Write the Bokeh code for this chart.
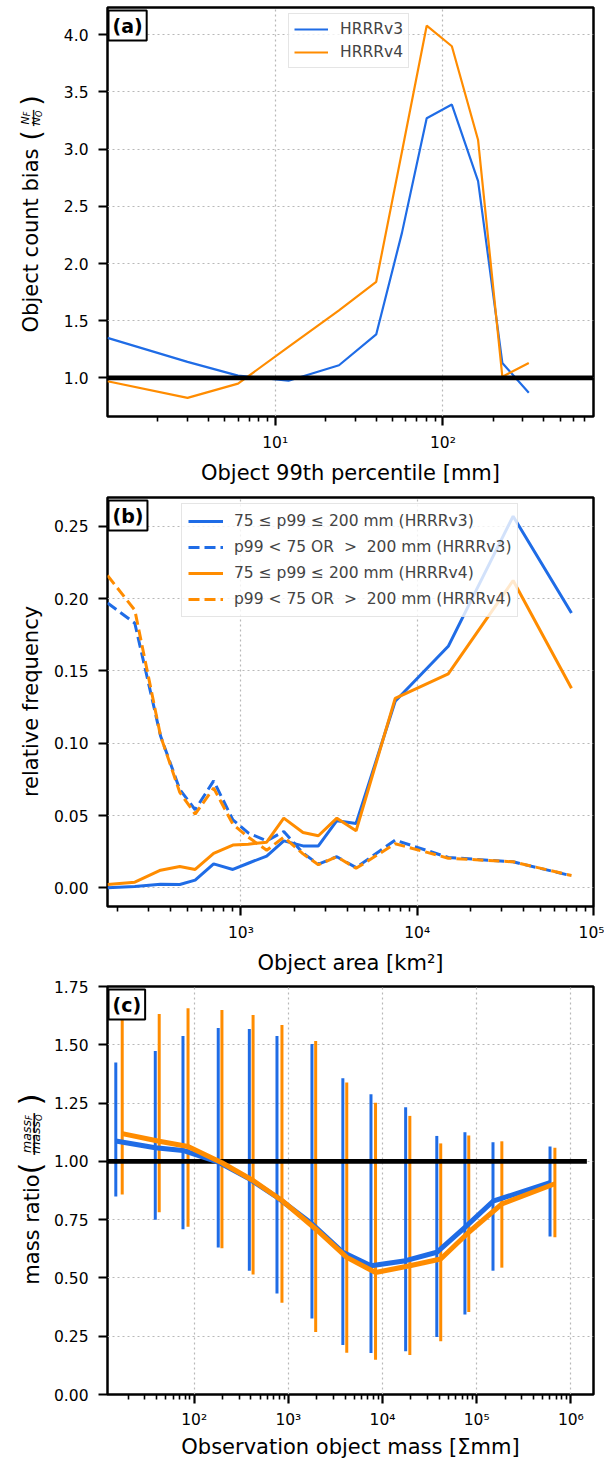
import numpy as np
from bokeh.plotting import figure
from bokeh.models import (FixedTicker, CustomJSTickFormatter, PrintfTickFormatter,
                          Label, Legend, LegendItem, Span)
from bokeh.layouts import column, row
from bokeh.core.properties import value
from bokeh.embed import file_html
from bokeh.resources import INLINE

# ---------------- data ----------------
# (a) object count bias vs object 99th percentile
a_x = [1, 3, 6, 12, 24, 40, 57, 80, 113, 162, 226, 325]
a_v3 = [1.35, 1.14, 1.02, 0.975, 1.11, 1.38, 2.27, 3.27, 3.39, 2.72, 1.13, 0.87]
a_v4 = [0.97, 0.825, 0.95, 1.27, 1.59, 1.84, 2.98, 4.08, 3.90, 3.08, 1.01, 1.13]

# (b) relative frequency vs object area
b_x = [175, 250, 350, 450, 550, 700, 900, 1100, 1400, 1750, 2250, 2750,
       3500, 4500, 7500, 15000, 35000, 75000]
b_v3_in = [0.000, 0.001, 0.0025, 0.0023, 0.0053, 0.0166, 0.0127, 0.017, 0.022, 0.0325,
           0.029, 0.029, 0.0464, 0.0445, 0.129, 0.167, 0.257, 0.190]
b_v3_out = [0.197, 0.183, 0.105, 0.068, 0.054, 0.074, 0.047, 0.038, 0.0325, 0.039,
            0.024, 0.0164, 0.0215, 0.014, 0.033, 0.021, 0.018, 0.0083]
b_v4_in = [0.0023, 0.0039, 0.0122, 0.0148, 0.0127, 0.0238, 0.0296, 0.0302, 0.0316, 0.0482,
           0.0383, 0.036, 0.0482, 0.0394, 0.131, 0.148, 0.2125, 0.138]
b_v4_out = [0.216, 0.192, 0.105, 0.066, 0.051, 0.069, 0.044, 0.035, 0.026, 0.035,
            0.0235, 0.016, 0.0215, 0.0135, 0.0305, 0.0205, 0.018, 0.0085]

# (c) mass ratio vs observation object mass
c_x_v3 = [14.7, 38.6, 76, 180, 385, 757, 1780, 3790, 7540, 17600, 37700, 75000, 149000, 601000]
c_x_v4 = [17.2, 42.5, 86, 197, 422, 855, 1950, 4170, 8430, 19500, 41500, 82400, 185000, 677000]
c_mean_v3 = [1.087, 1.058, 1.047, 0.997, 0.925, 0.846, 0.732, 0.610, 0.552, 0.574, 0.610, 0.717, 0.829, 0.909]
c_lo_v3 = [0.849, 0.750, 0.709, 0.630, 0.531, 0.433, 0.326, 0.212, 0.178, 0.186, 0.247, 0.343, 0.531, 0.678]
c_hi_v3 = [1.424, 1.473, 1.538, 1.572, 1.568, 1.538, 1.503, 1.357, 1.288, 1.232, 1.109, 1.125, 1.082, 1.064]
c_mean_v4 = [1.119, 1.086, 1.064, 0.994, 0.918, 0.832, 0.710, 0.588, 0.523, 0.552, 0.581, 0.696, 0.817, 0.904]
c_lo_v4 = [0.858, 0.782, 0.720, 0.627, 0.515, 0.394, 0.268, 0.179, 0.149, 0.169, 0.228, 0.354, 0.544, 0.674]
c_hi_v4 = [1.68, 1.632, 1.657, 1.649, 1.628, 1.585, 1.516, 1.338, 1.251, 1.195, 1.077, 1.111, 1.086, 1.058]
c_ref_x = [12, 1.48e6]
c_ref_y = [1.0, 1.0]

# ticks
a_xticks = [10, 100]
a_xminor = [2, 3, 4, 5, 6, 7, 8, 9, 20, 30, 40, 50, 60, 70, 80, 90, 200, 300, 400, 500, 600, 700]
a_yticks = [1.0, 1.5, 2.0, 2.5, 3.0, 3.5, 4.0]
b_xticks = [1e3, 1e4, 1e5]
b_xminor = [200, 300, 400, 500, 600, 700, 800, 900, 2e3, 3e3, 4e3, 5e3, 6e3, 7e3, 8e3, 9e3,
            2e4, 3e4, 4e4, 5e4, 6e4, 7e4, 8e4, 9e4]
b_yticks = [0.0, 0.05, 0.10, 0.15, 0.20, 0.25]
c_xticks = [1e2, 1e3, 1e4, 1e5, 1e6]
c_xminor = [20, 30, 40, 50, 60, 70, 80, 90] + [m * 10 ** k for k in (2, 3, 4, 5) for m in range(2, 10)]
c_yticks = [0.0, 0.25, 0.5, 0.75, 1.0, 1.25, 1.5, 1.75]

BLUE = "#1f6ce6"
ORANGE = "#ff8c00"
FONT = "DejaVu Sans"
STRIP_W = 50
TOTAL_H = 1461

SUP_CODE = """
const sup = {"0":"\u2070","1":"\u00b9","2":"\u00b2","3":"\u00b3","4":"\u2074","5":"\u2075","6":"\u2076","7":"\u2077","8":"\u2078","9":"\u2079","-":"\u207b"};
const e = Math.round(Math.log10(tick));
return "10" + String(e).split("").map(c => sup[c]).join("");
"""


def make_fig(xr, yr, h, top, bottom):
    p = figure(x_axis_type="log", x_range=xr, y_range=yr,
               width=604 - STRIP_W, height=h,
               min_border_left=106 - STRIP_W, min_border_right=11,
               min_border_top=top, min_border_bottom=bottom,
               output_backend="svg", toolbar_location=None)
    p.background_fill_color = "white"
    p.border_fill_color = "white"
    p.outline_line_color = "black"
    p.outline_line_width = 2.5
    return p


def style(p, xt, xm, yt, yfmt, xlabel, tick_so=8, lab_so=6):
    xtk = FixedTicker(ticks=xt, minor_ticks=xm)
    ytk = FixedTicker(ticks=yt)
    p.xaxis.ticker = xtk
    p.xgrid.ticker = xtk
    p.yaxis.ticker = ytk
    p.ygrid.ticker = ytk
    p.xaxis.formatter = CustomJSTickFormatter(code=SUP_CODE)
    p.yaxis.formatter = PrintfTickFormatter(format=yfmt)
    for ax in (p.xaxis[0], p.yaxis[0]):
        ax.axis_line_color = None
        ax.major_tick_line_width = 2.2
        ax.major_tick_out = 9
        ax.major_tick_in = 0
        ax.minor_tick_line_width = 1.6
        ax.minor_tick_out = 5
        ax.minor_tick_in = 0
        ax.major_label_text_font = FONT
        ax.major_label_text_font_size = "15.5px"
        ax.major_label_text_color = "black"
        ax.axis_label_text_font = FONT
        ax.axis_label_text_font_size = "21px"
        ax.axis_label_text_font_style = "normal"
        ax.axis_label_text_color = "black"
    p.yaxis.minor_tick_line_color = None
    p.xaxis.major_label_standoff = tick_so
    p.yaxis.major_label_standoff = 10
    p.xaxis.axis_label = xlabel
    p.xaxis.axis_label_standoff = lab_so
    for g in (p.xgrid[0], p.ygrid[0]):
        g.grid_line_color = "#b8b8b8"
        g.grid_line_dash = "2 3"
        g.grid_line_width = 1.2


def panel_tag(p, text, fh):
    p.add_layout(Label(x=1, y=fh - 3, x_units="screen", y_units="screen", text=text,
                       text_align="left", text_baseline="top", text_font=FONT,
                       text_font_size="19px", text_font_style="bold", text_color="black",
                       background_fill_color="white", border_line_color="black",
                       border_line_width=2, padding=4))


# ---------------- panel (a) ----------------
HA, TA, BA = 488, 7, 72
FHA = HA - TA - BA
pa = make_fig((1, 790), (0.662, 4.239), HA, TA, BA)
style(pa, a_xticks, a_xminor, a_yticks, "%.1f", "Object 99th percentile [mm]")
ra3 = pa.line(a_x, a_v3, line_color=BLUE, line_width=2.2)
ra4 = pa.line(a_x, a_v4, line_color=ORANGE, line_width=2.2)
pa.add_layout(Span(location=1.0, dimension="width", line_color="black", line_width=4.8))
leg_a = Legend(items=[LegendItem(label="HRRRv3", renderers=[ra3]),
                      LegendItem(label="HRRRv4", renderers=[ra4])],
               location=(181, 348), margin=0, padding=5, spacing=3,
               glyph_width=34, glyph_height=20, label_height=20, label_standoff=12,
               label_text_font=FONT, label_text_font_size="15.5px",
               border_line_color="#cccccc", border_line_width=1.5,
               background_fill_alpha=0.8)
pa.add_layout(leg_a)
panel_tag(pa, "(a)", FHA)

# ---------------- panel (b) ----------------
HB, TB, BB = 490, 9, 72
FHB = HB - TB - BB
pb = make_fig((175, 1e5), (-0.0129, 0.2699), HB, TB, BB)
style(pb, b_xticks, b_xminor, b_yticks, "%.2f", "Object area [km\u00b2]")
rb1 = pb.line(b_x, b_v3_in, line_color=BLUE, line_width=3)
rb2 = pb.line(b_x, b_v3_out, line_color=BLUE, line_width=3, line_dash="11 5")
rb3 = pb.line(b_x, b_v4_in, line_color=ORANGE, line_width=3)
rb4 = pb.line(b_x, b_v4_out, line_color=ORANGE, line_width=3, line_dash="11 5")
leg_b = Legend(items=[LegendItem(label="75 \u2264 p99 \u2264 200 mm (HRRRv3)", renderers=[rb1]),
                      LegendItem(label="p99 < 75 OR\u00a0\u00a0>\u00a0\u00a0200 mm (HRRRv3)", renderers=[rb2]),
                      LegendItem(label="75 \u2264 p99 \u2264 200 mm (HRRRv4)", renderers=[rb3]),
                      LegendItem(label="p99 < 75 OR\u00a0\u00a0>\u00a0\u00a0200 mm (HRRRv4)", renderers=[rb4])],
               location=(74, 289), margin=0, padding=6, spacing=4,
               glyph_width=35, glyph_height=22, label_height=22, label_standoff=11,
               label_text_font=FONT, label_text_font_size="15.5px",
               border_line_color="#cccccc", border_line_width=1.5,
               background_fill_alpha=0.8)
pb.add_layout(leg_b)
panel_tag(pb, "(b)", FHB)

# ---------------- panel (c) ----------------
HC, TC, BC = 483, 8, 67
FHC = HC - TC - BC
pc = make_fig((12, 1.74e6), (0, 1.75), HC, TC, BC)
style(pc, c_xticks, c_xminor, c_yticks, "%.2f", "Observation object mass [\u03a3mm]",
      tick_so=7, lab_so=3)
pc.segment(c_x_v3, c_lo_v3, c_x_v3, c_hi_v3, line_color=BLUE, line_width=3)
pc.segment(c_x_v4, c_lo_v4, c_x_v4, c_hi_v4, line_color=ORANGE, line_width=3)
pc.line(c_ref_x, c_ref_y, line_color="black", line_width=4.8)
pc.line(c_x_v3, c_mean_v3, line_color=BLUE, line_width=5)
pc.line(c_x_v4, c_mean_v4, line_color=ORANGE, line_width=5)
panel_tag(pc, "(c)", FHC)

# ---------------- y-axis titles (left strip, page pixels) ----------------
ps = figure(width=STRIP_W, height=TOTAL_H, x_range=(0, STRIP_W), y_range=(0, TOTAL_H),
            min_border=0, x_axis_location=None, y_axis_location=None,
            output_backend="svg", toolbar_location=None)
ps.outline_line_color = None
ps.grid.visible = False
ps.background_fill_color = "white"
ps.border_fill_color = "white"


def vtext(text, x, y_top_px, size, align="center", style_="normal"):
    ps.text(x=[x], y=[TOTAL_H - y_top_px], text=[text], angle=np.pi / 2,
            text_align=align, text_baseline="middle", text_font=value(FONT),
            text_font_size=value(f"{size}px"), text_font_style=value(style_),
            text_color="black")


def frac_title(main, main_c, po, pcl, fc, num, nsub, den, dsub, base_w, fsz, sub_sz,
               nx, nsx, dx, dsx, bar_x, bar_txt, bar_sz, par_x, par_sz, main_x):
    vtext(main, main_x, main_c, 21)
    vtext("(", par_x, po, par_sz)
    vtext(")", par_x, pcl, par_sz)
    nw = base_w + 0.575 * sub_sz
    dw = base_w + 0.787 * sub_sz
    vtext(num, nx, fc + nw / 2, fsz, align="left", style_="italic")
    vtext(nsub, nsx, fc + nw / 2 - base_w, sub_sz, align="left", style_="italic")
    vtext(den, dx, fc + dw / 2, fsz, align="left", style_="italic")
    vtext(dsub, dsx, fc + dw / 2 - base_w, sub_sz, align="left", style_="italic")
    vtext(bar_txt, bar_x, fc, bar_sz)


# panel (a) title: Object count bias (N_F / N_O)
frac_title("Object count bias", 240, 135, 100, 117.5, "N", "F", "N", "O",
           0.748 * 11, 11, 8, 24.7, 26.7, 36.2, 38.7, 30.5, "\u2014", 18, 30.5, 26, 30.2)
# panel (b) title
vtext("relative frequency", 30.7, 701, 21)
# panel (c) title: mass ratio (mass_F / mass_O)
frac_title("mass ratio", 1229, 1168, 1099, 1133.5, "mass", "F", "mass", "O",
           2.629 * 12.5, 12.5, 8.5, 25.6, 28.6, 35.0, 38.2, 32.3, "\u2014\u2014", 22, 29.5, 31, 31)

layout = row(ps, column(pa, pb, pc, spacing=0), spacing=0)
open("out.html", "w").write(file_html(layout, INLINE))
